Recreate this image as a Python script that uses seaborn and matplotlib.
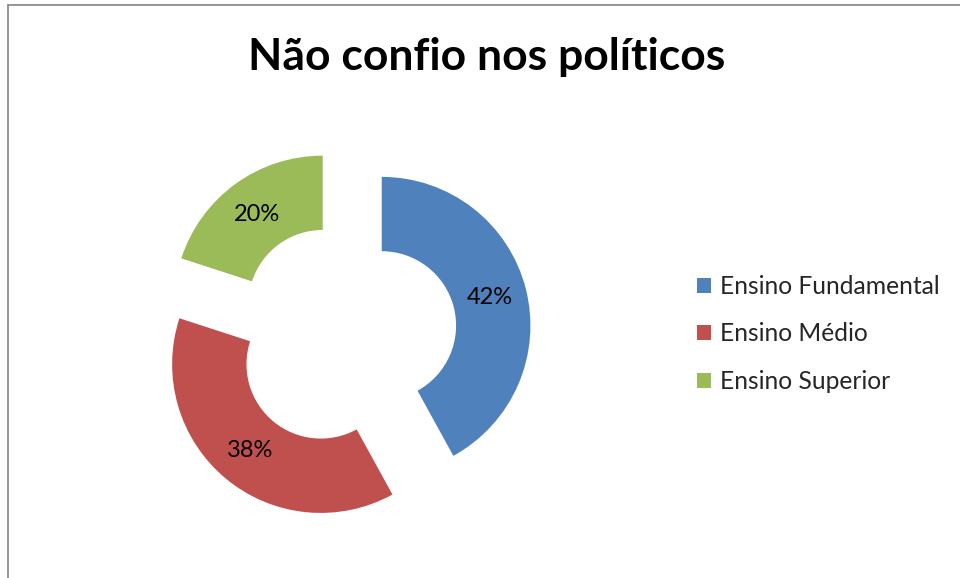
import matplotlib
matplotlib.use("Agg")
import matplotlib.pyplot as plt
import seaborn as sns
from matplotlib.patches import Rectangle

categories = ["Ensino Fundamental", "Ensino Médio", "Ensino Superior"]
values = [42, 38, 20]
colors_hex = ["#4F81BD", "#C0504D", "#9BBB59"]
title = "Não confio nos políticos"

sns.set_theme(style="white")
plt.rcParams["font.family"] = ["Lato", "DejaVu Sans"]
palette = sns.color_palette(colors_hex)

W, H = 960, 578
fig = plt.figure(figsize=(W / 100, H / 100), dpi=100)
fig.patch.set_facecolor("white")

# outer chart border (only top and left visible)
fig.add_artist(Rectangle((8 / W, -0.5), 1.2, 1.5 - 5 / H, transform=fig.transFigure,
                         fill=False, edgecolor="#8c8c8c", linewidth=1.3))

# pie axes: center at (345,335) px, radius 148.7 px
cx, cy, R = 345, 335, 148.7
half = 1.5
side = 2 * half * R
ax = fig.add_axes([(cx - side / 2) / W, (H - cy - side / 2) / H, side / W, side / H])
wedges, texts, autotexts = ax.pie(
    values, colors=palette, startangle=90, counterclock=False,
    explode=[0.255] * 3, radius=1.0, autopct="%d%%", pctdistance=0.75,
    wedgeprops=dict(width=0.5, edgecolor="none"),
    textprops=dict(fontsize=17, color="black"),
)
ax.set_xlim(-half, half)
ax.set_ylim(-half, half)
ax.set_aspect("equal")
ax.axis("off")

fig.text(487 / W, 1 - 57 / H, title, ha="center", va="center",
         fontsize=32, fontweight="bold", color="black")

fig.legend(wedges, categories, loc="center left",
           bbox_to_anchor=(697 / W, 1 - 334 / H), frameon=False,
           fontsize=17.7, handlelength=0.57, handleheight=0.57,
           handletextpad=0.37, labelspacing=1.0,
           borderpad=0, borderaxespad=0)

fig.savefig("out.png", dpi=100, facecolor="white")
